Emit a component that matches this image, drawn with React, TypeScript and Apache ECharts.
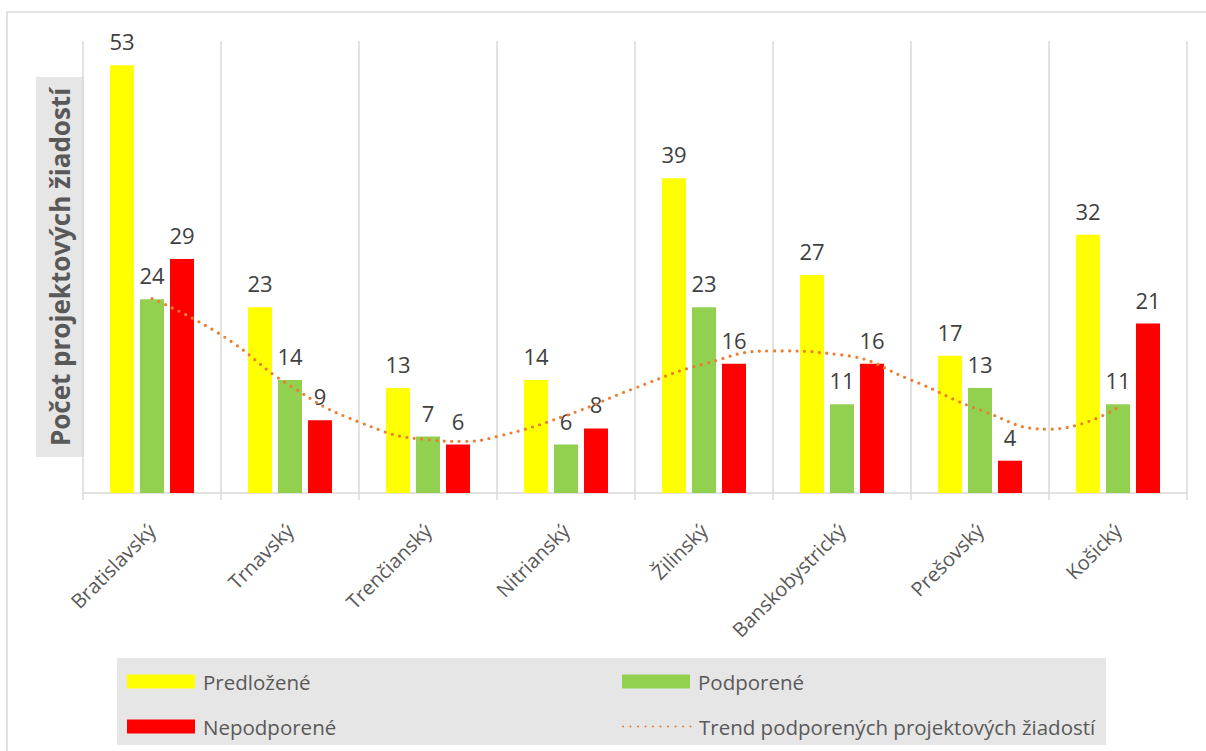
import React, { useEffect, useRef } from "react";
import * as echarts from "echarts";

const categories = [
  "Bratislavský",
  "Trnavský",
  "Trenčianský",
  "Nitrianský",
  "Žilinský",
  "Banskobystrický",
  "Prešovský",
  "Košický",
];
const submitted = [53, 23, 13, 14, 39, 27, 17, 32];
const supported = [24, 14, 7, 6, 23, 11, 13, 11];
const rejected = [29, 9, 6, 8, 16, 16, 4, 21];

// trend line: position in category units (centre of category i = i + 0.5)
const trendX = [0.5, 1, 1.5, 2, 2.5, 2.75, 3, 3.5, 4, 4.5, 5, 5.5, 6, 6.5, 7, 7.5];
const trendY = [24.1, 19.6, 13.3, 8.8, 6.6, 6.4, 7.0, 9.6, 13.0, 16.0, 17.6, 17.1, 14.0, 10.3, 7.9, 10.6];

const seriesNames = ["Predložené", "Podporené", "Nepodporené", "Trend podporených projektových žiadostí"];
const yTitle = "Počet projektových žiadostí";

const FONT = "'Open Sans', 'Noto Sans', sans-serif";

export default function App() {
  const ref = useRef<HTMLDivElement>(null);

  useEffect(() => {
    document.body.style.margin = "0";
    if (!ref.current) return;
    const chart = echarts.init(ref.current, null, { renderer: "svg" });

    const barLabel = {
      show: true,
      position: "top",
      distance: 13,
      fontSize: 22,
      color: "#404040",
      fontFamily: FONT,
    };

    const legendText = { fontSize: 20.5, color: "#595959", fontFamily: FONT, padding: [0, 0, 0, 3] };
    const mkLegend = (item: any, left: number, top: number) => ({
      data: [item],
      left,
      top,
      padding: 0,
      itemWidth: 68,
      itemHeight: 14,
      selectedMode: false,
      textStyle: legendText,
    });

    chart.setOption({
      animation: false,
      textStyle: { fontFamily: FONT },
      grid: { left: 83, right: 19, top: 41, bottom: 258, containLabel: false },
      graphic: [
        {
          type: "rect",
          z: -10,
          shape: { x: 7, y: 12, width: 1215, height: 760 },
          style: { fill: "#ffffff", stroke: "#d9d9d9", lineWidth: 1.5 },
        },
        {
          type: "rect",
          z: -5,
          shape: { x: 36, y: 77, width: 48, height: 380 },
          style: { fill: "#e7e6e6" },
        },
        {
          type: "text",
          x: 60,
          y: 267,
          rotation: Math.PI / 2,
          style: {
            text: yTitle,
            fontSize: 26,
            fontWeight: "bold",
            fill: "#595959",
            fontFamily: FONT,
            align: "center",
            verticalAlign: "middle",
          },
        },
        {
          type: "rect",
          z: -5,
          shape: { x: 117, y: 658, width: 989, height: 87 },
          style: { fill: "#e7e6e6" },
        },
      ],
      legend: [
        mkLegend({ name: seriesNames[0], icon: "rect" }, 127, 671),
        mkLegend({ name: seriesNames[1], icon: "rect" }, 622, 671),
        mkLegend({ name: seriesNames[2], icon: "rect" }, 127, 716),
        mkLegend(
          { name: seriesNames[3], itemStyle: { color: "transparent", opacity: 0, borderWidth: 0 } },
          622,
          716
        ),
      ],
      xAxis: [
        {
          type: "category",
          data: categories,
          boundaryGap: true,
          axisLine: { show: true, lineStyle: { color: "#d9d9d9", width: 1.5 } },
          axisTick: { show: true, length: 7, lineStyle: { color: "#d9d9d9", width: 1.5 } },
          splitLine: { show: true, lineStyle: { color: "#d9d9d9", width: 1.5 } },
          axisLabel: {
            rotate: 45,
            margin: 34,
            fontSize: 20,
            color: "#595959",
            fontFamily: FONT,
            interval: 0,
          },
        },
        {
          type: "value",
          min: 0,
          max: 8,
          show: false,
        },
        {
          type: "category",
          data: categories,
          position: "bottom",
          boundaryGap: true,
          axisLine: { show: false },
          axisLabel: { show: false },
          splitLine: { show: false },
          axisTick: {
            show: true,
            inside: true,
            alignWithLabel: true,
            length: 6,
            lineStyle: { color: "#d9d9d9", width: 1.5 },
          },
        },
      ],
      yAxis: {
        type: "value",
        min: 0,
        max: 56,
        show: false,
        splitLine: { show: false },
      },
      series: [
        {
          name: seriesNames[0],
          type: "bar",
          data: submitted,
          barWidth: 24,
          barGap: "25%",
          itemStyle: { color: "#ffff00" },
          label: barLabel,
          z: 2,
        },
        {
          name: seriesNames[1],
          type: "bar",
          data: supported,
          barWidth: 24,
          barGap: "25%",
          itemStyle: { color: "#92d050" },
          label: barLabel,
          z: 2,
        },
        {
          name: seriesNames[2],
          type: "bar",
          data: rejected,
          barWidth: 24,
          barGap: "25%",
          itemStyle: { color: "#ff0000" },
          label: barLabel,
          z: 2,
        },
        {
          name: seriesNames[3],
          type: "line",
          xAxisIndex: 1,
          data: trendX.map((x, i) => [x, trendY[i]]),
          smooth: 0.5,
          symbol: "none",
          itemStyle: { color: "#ed7d31" },
          lineStyle: { color: "#ed7d31", width: 3.2, type: [0, 7.5], cap: "round" },
          z: 5,
        },
      ],
    });

    return () => chart.dispose();
  }, []);

  return (
    <div
      ref={ref}
      style={{ position: "absolute", left: 0, top: 0, width: 1206, height: 751 }}
    />
  );
}
